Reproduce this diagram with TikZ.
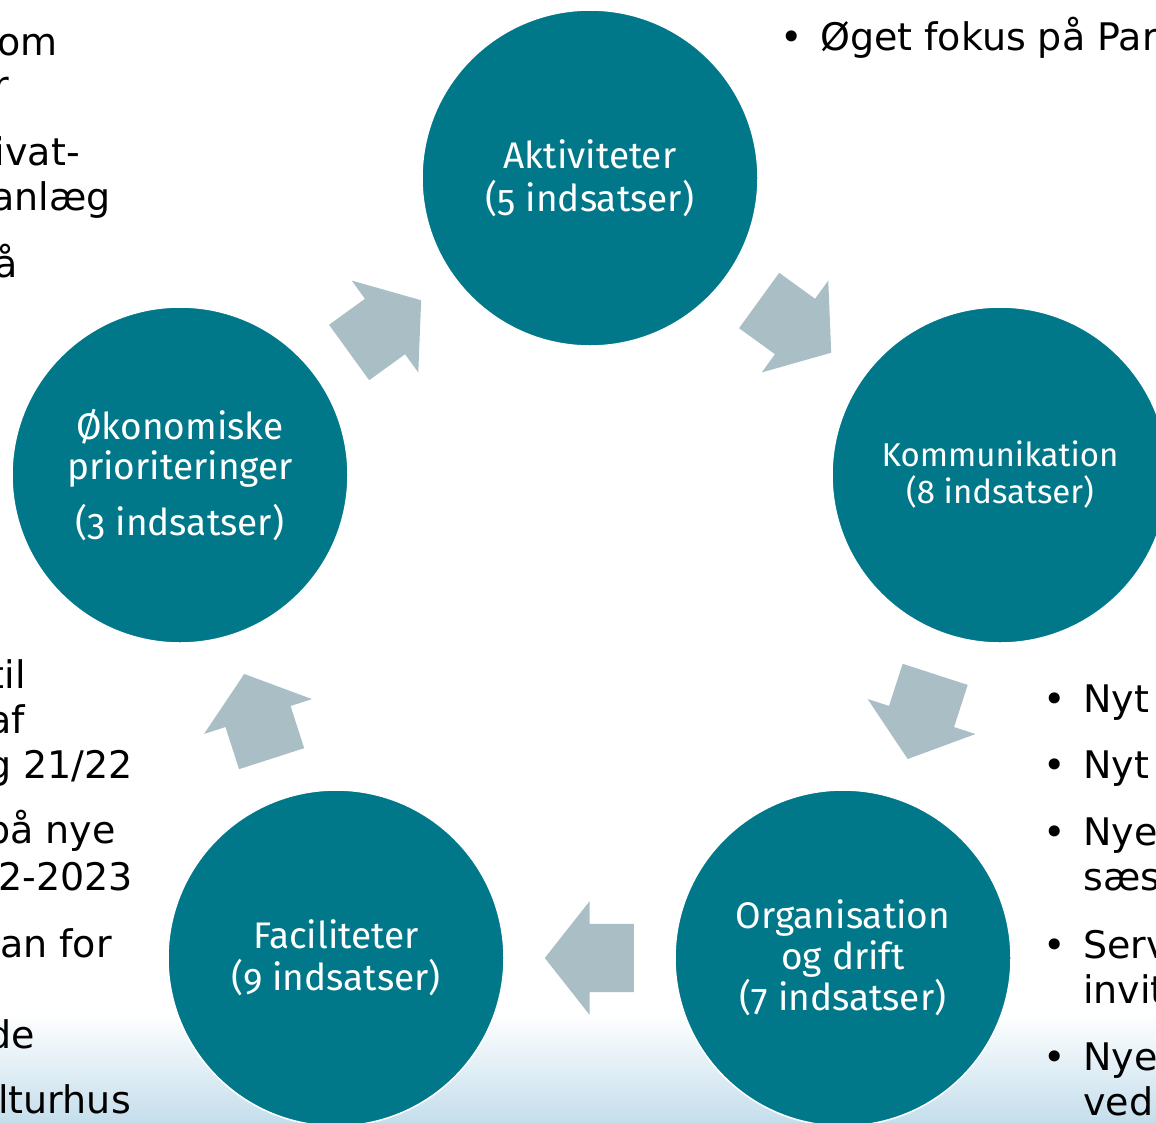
\documentclass[tikz,border=0pt]{standalone}
\usepackage{fontspec}
\setmainfont{DejaVu Sans}
\newfontfamily\cfont{Fira Sans}[Numbers=OldStyle]
\usetikzlibrary{shapes.arrows,calc}
\definecolor{circteal}{RGB}{0,120,138}
\definecolor{arrowc}{RGB}{170,190,198}
\definecolor{gbot}{RGB}{197,222,236}
\tikzset{
  body/.style={font=\fontsize{38}{45}\selectfont, inner sep=0pt, text=black},
  circ/.style={circle, minimum size=336pt, fill=circteal, draw=white, line width=1.5pt,
    text=white, align=center, inner sep=0pt, font=\cfont\fontsize{37}{43}\selectfont},
  blockarr/.style={single arrow, fill=arrowc, draw=none, inner xsep=0pt, inner ysep=34pt,
    minimum height=89pt, minimum width=113pt, single arrow head extend=22.5pt,
    single arrow tip angle=103.5},
}
\begin{document}
\begin{tikzpicture}[x=1pt,y=-1pt]
\useasboundingbox (0,0) rectangle (1156,1122);
\clip (0,0) rectangle (1156,1122);
\fill[white] (0,0) rectangle (1156,1122);
\shade[top color=white, bottom color=gbot] (0,1012) rectangle (1156,1122);

% left text fragments (top)
\node[body, anchor=base east] (l1) at (58,55) {om};
\node[body, anchor=base east] (l2) at (9,98) {r};
\node[body, anchor=base east] (l3) at (80,165) {ivat-};
\node[body, anchor=base east] (l4) at (111,210) {anlæg};
\node[body, anchor=base east] (l5) at (18,277) {å};
% left text fragments (bottom)
\node[body, anchor=base east] (l6) at (26,688) {til};
\node[body, anchor=base east] (l7) at (25,733) {af};
\node[body, anchor=base east] (l8) at (133,778) {g 21/22};
\node[body, anchor=base east] (l9) at (116,843) {på nye};
\node[body, anchor=base east] (l10) at (133,890) {2-2023};
\node[body, anchor=base east] (l11) at (112,957) {an for};
\node[body, anchor=base east] (l12) at (35,1048) {de};
\node[body, anchor=base east] (l13) at (131,1113) {lturhus};

% top right bullet
\node[body, anchor=base west] (b0) at (780,50) {•};
\node[body, anchor=base west] (r0) at (820,50) {Øget fokus på Par};

% right bullets
\node[body, anchor=base west] (b1) at (1043,712) {•};
\node[body, anchor=base west] (r1) at (1083,712) {Nyt};
\node[body, anchor=base west] (b2) at (1043,778) {•};
\node[body, anchor=base west] (r2) at (1083,778) {Nyt};
\node[body, anchor=base west] (b3) at (1043,845) {•};
\node[body, anchor=base west] (r3) at (1083,845) {Nye};
\node[body, anchor=base west] (r3b) at (1083,890) {sæs};
\node[body, anchor=base west] (b4) at (1043,958) {•};
\node[body, anchor=base west] (r4) at (1083,958) {Serv};
\node[body, anchor=base west] (r4b) at (1083,1003) {invit};
\node[body, anchor=base west] (b5) at (1043,1070) {•};
\node[body, anchor=base west] (r5) at (1083,1070) {Nye};
\node[body, anchor=base west] (r5b) at (1083,1115) {ved};

% circles
\node[circ] (akt) at (590,178) {Aktiviteter\\(5 indsatser)};
\node[circ, font=\cfont\fontsize{33}{37}\selectfont] (kom) at (1000,475) {Kommunikation\\(8 indsatser)};
\node[circ, font=\cfont\fontsize{37}{41}\selectfont] (org) at (843,958) {Organisation\\og drift\\(7 indsatser)};
\node[circ, font=\cfont\fontsize{37}{42}\selectfont] (fac) at (336,958) {Faciliteter\\(9 indsatser)};
\node[circ, font=\cfont\fontsize{37}{40}\selectfont] (oko) at (180,475) {Økonomiske\\prioriteringer\\[16pt](3 indsatser)};

% block arrows between circles
\foreach \a/\b/\n in {akt/kom/1, kom/org/2, org/fac/3, fac/oko/4, oko/akt/5} {
  \coordinate (m\n) at ($(\a.center)!0.5!(\b.center)$);
  \coordinate (t\n) at ($(m\n)!44.5pt!(\a.center)$);
  \path (t\n) -- (m\n) node[blockarr, pos=0, sloped, allow upside down, anchor=tail] (arr\n) {};
}
\end{tikzpicture}
\end{document}
